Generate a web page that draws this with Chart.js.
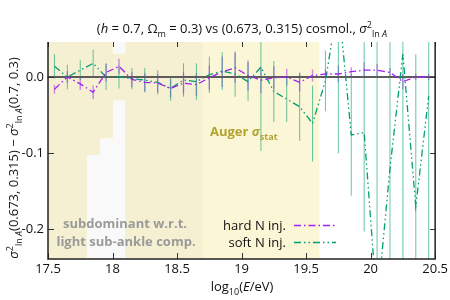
<!DOCTYPE html>
<html>
<head>
<meta charset="utf-8">
<script src="https://cdn.jsdelivr.net/npm/chart.js@4/dist/chart.umd.min.js"></script>
<style>
  html, body { margin: 0; padding: 0; background: #fff; }
  #wrap { width: 450px; height: 300px; }
</style>
</head>
<body>
<div id="wrap"><canvas id="chart" width="450" height="300"></canvas></div>
<script>
// bin centres, log10(E/eV)
const energies = [17.55, 17.65, 17.75, 17.85, 17.95, 18.05, 18.15, 18.25, 18.35, 18.45,
                  18.55, 18.65, 18.75, 18.85, 18.95, 19.05, 19.15, 19.25, 19.35, 19.45,
                  19.55, 19.65, 19.75, 19.85, 19.95, 20.05, 20.15, 20.25, 20.35, 20.45];

const hardInj = [-0.016, 0.0, -0.009, -0.020, 0.006, 0.014, -0.003, -0.007, -0.008, -0.015,
                 -0.008, -0.010, -0.001, 0.007, 0.012, 0.002, -0.004, -0.001, 0.0, -0.007,
                 0.002, 0.004, 0.004, 0.007, 0.009, 0.009, 0.006, -0.006, 0.0, 0.0];
const hardErr = [0.006, 0.008, 0.008, 0.009, 0.012, 0.010, 0.010, 0.012, 0.012, 0.012,
                 0.014, 0.015, 0.016, 0.020, 0.020, 0.020, 0.017, 0.015, 0.011, 0.012,
                 0.008, 0.006, 0.011, 0.006, 0.010, 0.008, 0.006, 0.010, 0.004, 0.004];

const softInj = [0.014, 0.0, 0.009, 0.018, 0.0, 0.0, -0.002, -0.004, -0.007, -0.015,
                 -0.004, -0.006, 0.003, 0.008, 0.004, -0.006, 0.013, -0.019, -0.029, -0.039,
                 -0.061, -0.005, 0.10, -0.076, -0.073, -0.30, -0.12, 0.03, -0.17, -0.025];
const softErr = [0.016, 0.016, 0.013, 0.018, 0.017, 0.015, 0.014, 0.016, 0.016, 0.016,
                 0.022, 0.024, 0.024, 0.025, 0.030, 0.025, 0.110, 0.040, 0.030, 0.045,
                 0.050, 0.040, 0.200, 0.080, 0.130, 0.500, 0.400, 0.400, 0.200, 0.400];

// Auger statistical band (+-sigma around zero), per 0.1 bin
const augerBins = [17.55, 17.65, 17.75, 17.85, 17.95, 18.05, 18.15, 18.25, 18.35, 18.45, 18.55,
                   18.65, 18.75, 18.85, 18.95, 19.05, 19.15, 19.25, 19.35, 19.45, 19.55];
const augerSigma = [0.3, 0.3, 0.3, 0.102, 0.08, 0.03, 0.3, 0.3, 0.3, 0.3, 0.3,
                    0.3, 0.3, 0.3, 0.3, 0.3, 0.3, 0.3, 0.3, 0.3, 0.3];

// region where the light sub-ankle component dominates
const subdominantRange = [17.5, 18.7];

const xTicks = { min: 17.5, max: 20.5, step: 0.5 };
const yTicks = { min: -0.239, max: 0.046, step: 0.1 };

const FONT = '"Open Sans", "Noto Sans", sans-serif';
const PURPLE = '#a020f0';
const GREEN = '#009e73';

const pts = vals => energies.map((x, i) => ({ x, y: vals[i] }));
const errs = (vals, e) => energies.map((x, i) => ({ x, y: [vals[i] - e[i], vals[i] + e[i]] }));

function rich(ctx, parts, x, y, align, size, color) {
  const fontOf = p => `${p.i ? 'italic ' : ''}${p.b ? 'bold ' : ''}${p.sub || p.sup ? Math.round(size * 0.72) : size}px ${FONT}`;
  const widths = parts.map(p => { ctx.font = fontOf(p); return ctx.measureText(p.t).width; });
  const total = widths.reduce((a, b) => a + b, 0);
  let cx = align === 'center' ? x - total / 2 : align === 'right' ? x - total : x;
  ctx.fillStyle = color;
  ctx.textAlign = 'left';
  ctx.textBaseline = 'alphabetic';
  parts.forEach((p, k) => {
    ctx.font = fontOf(p);
    const dy = p.sub ? size * 0.28 : p.sup ? -size * 0.42 : 0;
    ctx.fillText(p.t, cx, y + dy);
    cx += widths[k];
  });
}

const decor = {
  id: 'decor',
  afterDatasetsDraw(chart) {
    const { ctx, chartArea: a, scales: { x, y } } = chart;
    ctx.save();
    ctx.strokeStyle = '#333';
    ctx.lineWidth = 1;
    ctx.beginPath();
    x.ticks.forEach(t => {
      const px = Math.round(x.getPixelForValue(t.value)) + 0.5;
      ctx.moveTo(px, a.bottom); ctx.lineTo(px, a.bottom - 6);
      ctx.moveTo(px, a.top); ctx.lineTo(px, a.top + 5);
    });
    y.ticks.forEach(t => {
      const py = Math.round(y.getPixelForValue(t.value)) + 0.5;
      ctx.moveTo(a.left, py); ctx.lineTo(a.left + 6, py);
      ctx.moveTo(a.right, py); ctx.lineTo(a.right - 5, py);
    });
    ctx.stroke();
    ctx.strokeStyle = '#222';
    ctx.lineWidth = 1.5;
    ctx.beginPath();
    ctx.moveTo(a.left, a.top);
    ctx.lineTo(a.left, a.bottom);
    ctx.lineTo(a.right, a.bottom);
    ctx.lineTo(a.right, a.top);
    ctx.stroke();
    ctx.restore();
  },
  afterDraw(chart) {
    const { ctx } = chart;
    ctx.save();
    // title
    rich(ctx, [
      { t: '(' }, { t: 'h', i: 1 }, { t: ' = 0.7, Ω' }, { t: 'm', sub: 1 },
      { t: ' = 0.3) vs (0.673, 0.315) cosmol., ' }, { t: 'σ', i: 1 }, { t: '2', sup: 1 },
      { t: 'ln ', sub: 1 }, { t: 'A', sub: 1, i: 1 }
    ], 242, 33, 'center', 13, '#111');
    // x label
    rich(ctx, [
      { t: 'log' }, { t: '10', sub: 1 }, { t: '(' }, { t: 'E', i: 1 }, { t: '/eV)' }
    ], 242, 291, 'center', 13, '#111');
    // y label
    ctx.save();
    ctx.translate(18, 158);
    ctx.rotate(-Math.PI / 2);
    rich(ctx, [
      { t: 'σ', i: 1 }, { t: '2', sup: 1 }, { t: 'ln ', sub: 1 }, { t: 'A', sub: 1, i: 1 },
      { t: '(0.673, 0.315) − ' },
      { t: 'σ', i: 1 }, { t: '2', sup: 1 }, { t: 'ln ', sub: 1 }, { t: 'A', sub: 1, i: 1 },
      { t: '(0.7, 0.3)' }
    ], 0, 0, 'center', 13, '#111');
    ctx.restore();
    // annotations
    rich(ctx, [{ t: 'Auger ', b: 1 }, { t: 'σ', b: 1, i: 1 }, { t: 'stat', b: 1, sub: 1 }],
      210, 136, 'left', 13, '#b3a431');
    rich(ctx, [{ t: 'subdominant w.r.t.', b: 1 }], 125, 228, 'center', 13, '#9a9a9a');
    rich(ctx, [{ t: 'light sub-ankle comp.', b: 1 }], 126, 246, 'center', 13, '#9a9a9a');
    // legend
    const leg = [
      { label: 'hard N inj.', color: PURPLE, dash: [7, 3, 1.5, 3], y: 225 },
      { label: 'soft N inj.', color: GREEN, dash: [7, 3, 1.5, 3, 1.5, 3], y: 242 }
    ];
    leg.forEach(l => {
      rich(ctx, [{ t: l.label }], 286, l.y + 4.5, 'right', 13, '#111');
      ctx.strokeStyle = l.color;
      ctx.lineWidth = 1.4;
      ctx.setLineDash(l.dash);
      ctx.beginPath();
      ctx.moveTo(294, l.y + 0.5);
      ctx.lineTo(336, l.y + 0.5);
      ctx.stroke();
    });
    ctx.restore();
  }
};

new Chart(document.getElementById('chart'), {
  type: 'line',
  data: {
    datasets: [
      { type: 'line', data: pts(hardInj), borderColor: PURPLE, borderWidth: 1.3,
        borderDash: [7, 3, 1.5, 3], pointRadius: 0, order: 1 },
      { type: 'line', data: pts(softInj), borderColor: GREEN, borderWidth: 1.3,
        borderDash: [7, 3, 1.5, 3, 1.5, 3], pointRadius: 0, order: 2 },
      { type: 'line', data: [{ x: xTicks.min, y: 0 }, { x: xTicks.max, y: 0 }],
        borderColor: '#5c5c5c', borderWidth: 2, pointRadius: 0, order: 3 },
      { type: 'bar', data: errs(softInj, softErr), backgroundColor: 'rgba(0,158,115,0.6)',
        barThickness: 1, inflateAmount: 0, grouped: false, order: 4 },
      { type: 'bar', data: errs(hardInj, hardErr), backgroundColor: 'rgba(160,32,240,0.5)',
        barThickness: 1.4, inflateAmount: 0, grouped: false, order: 5 },
      { type: 'line', data: subdominantRange.map(x => ({ x, y: 1 })), fill: 'start',
        backgroundColor: 'rgba(60,60,100,0.032)', borderWidth: 0, pointRadius: 0, order: 8 },
      { type: 'bar', data: augerBins.map((x, i) => ({ x, y: [-augerSigma[i], augerSigma[i]] })),
        backgroundColor: '#fbf6d6', barPercentage: 1, categoryPercentage: 1, grouped: false, order: 9 }
    ]
  },
  options: {
    responsive: false,
    devicePixelRatio: 1,
    animation: false,
    events: [],
    layout: { padding: { left: 0, top: 42, right: 14, bottom: 0 } },
    plugins: { legend: { display: false }, tooltip: { enabled: false }, title: { display: false } },
    scales: {
      x: {
        type: 'linear', min: xTicks.min, max: xTicks.max, offset: false,
        grid: { display: false, drawTicks: false }, border: { display: false },
        ticks: { stepSize: xTicks.step, padding: 2, maxRotation: 0, autoSkip: false,
                 color: '#111', font: { family: FONT, size: 13 }, callback: v => String(v) },
        afterFit: s => { s.height = 41; }
      },
      y: {
        type: 'linear', min: yTicks.min, max: yTicks.max,
        grid: { display: false, drawTicks: false }, border: { display: false },
        ticks: { stepSize: yTicks.step, includeBounds: false, padding: 4, color: '#111',
                 font: { family: FONT, size: 13 },
                 callback: v => Math.abs(v) < 1e-9 ? '0.0' : v.toFixed(1) },
        afterFit: s => { s.width = 48; }
      }
    }
  },
  plugins: [decor]
});
</script>
</body>
</html>
